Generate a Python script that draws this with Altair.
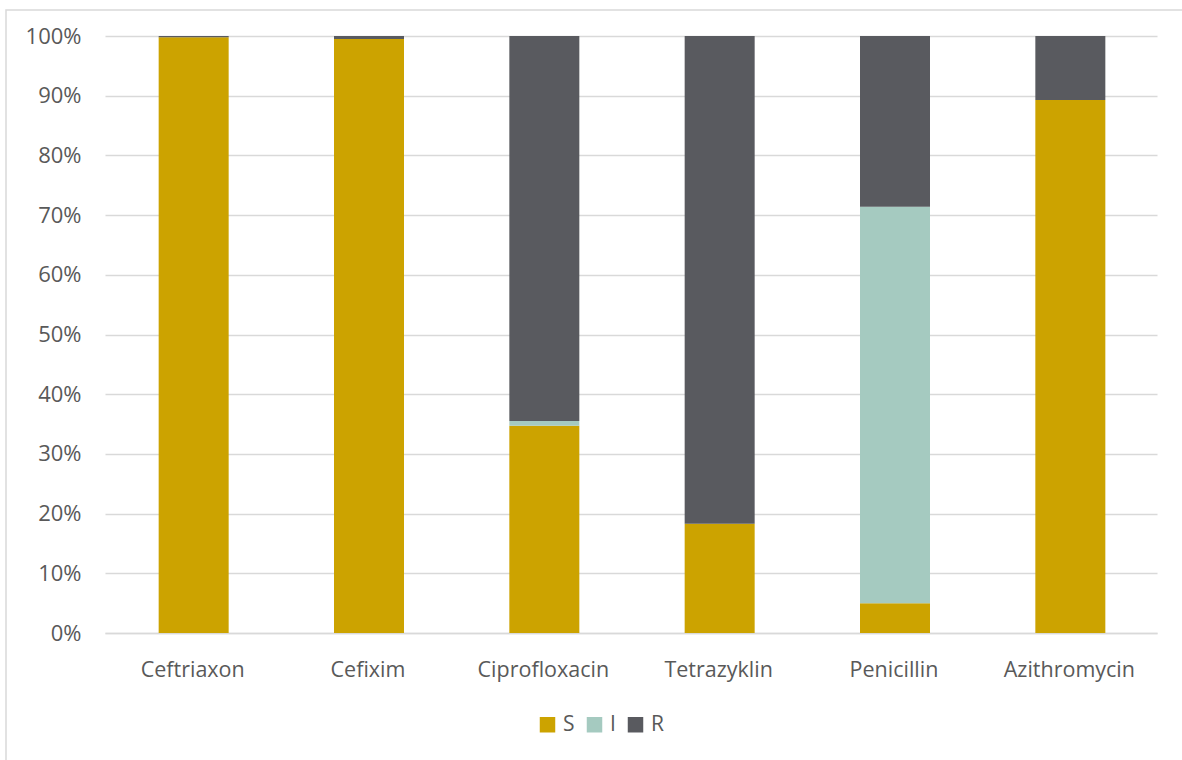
import altair as alt
import pandas as pd

# Susceptibility shares (percent) per antibiotic
antibiotics = ["Ceftriaxon", "Cefixim", "Ciprofloxacin", "Tetrazyklin", "Penicillin", "Azithromycin"]
share_s = [99.8, 99.5, 34.7, 18.3, 5.0, 89.3]
share_i = [0.0, 0.0, 0.8, 0.0, 66.4, 0.0]
share_r = [0.2, 0.5, 64.5, 81.7, 28.6, 10.7]

categories = ["S", "I", "R"]
colors = ["#CCA300", "#A5CAC0", "#595A5F"]

rows = []
for i, ab in enumerate(antibiotics):
    for k, vals in enumerate([share_s, share_i, share_r]):
        rows.append({"Antibiotikum": ab, "Kategorie": categories[k], "order": k, "Anteil": vals[i] / 100})
df = pd.DataFrame(rows)

FONT = "Open Sans"
TEXT = "#595959"

bars = alt.Chart(df).mark_bar(width=70, xOffset=1).encode(
    x=alt.X("Antibiotikum:N", sort=antibiotics, title=None,
            axis=alt.Axis(labelAngle=0, labelFontSize=21.5, labelColor=TEXT, labelFont=FONT,
                          labelPadding=26, ticks=False, domainColor="#D9D9D9", domainWidth=1.5)),
    y=alt.Y("Anteil:Q", stack="zero", title=None,
            scale=alt.Scale(domain=[0, 1], nice=False),
            axis=alt.Axis(format=".0%", values=[i / 10 for i in range(11)], labelFontSize=22,
                          labelColor=TEXT, labelFont=FONT, labelPadding=24, ticks=False,
                          domain=False, gridColor="#D9D9D9", gridWidth=1.3)),
    color=alt.Color("Kategorie:N", sort=categories,
                    scale=alt.Scale(domain=categories, range=colors),
                    legend=alt.Legend(title=None, orient="none", direction="horizontal",
                                      legendX=432, legendY=678, symbolType="square", symbolSize=240,
                                      symbolStrokeWidth=0, labelFontSize=21, labelColor=TEXT,
                                      labelFont=FONT, columnPadding=9, labelOffset=5)),
    order=alt.Order("order:Q"),
)

# Outer frame of the chart area
frame = alt.Chart(pd.DataFrame({"a": [0]})).mark_rect(
    fill=None, stroke="#D9D9D9", strokeWidth=1.5, clip=False
).encode(
    x=alt.value(-99), x2=alt.value(1083), y=alt.value(-26), y2=alt.value(730)
)

chart = alt.layer(frame, bars).properties(
    width=1052, height=597,
    autosize=alt.AutoSizeParams(type="none"),
    padding={"left": 105, "top": 36, "right": 25, "bottom": 127},
    background="white",
).configure_view(stroke=None)

chart.save("out.html", embed_options={"renderer": "svg", "actions": False})
